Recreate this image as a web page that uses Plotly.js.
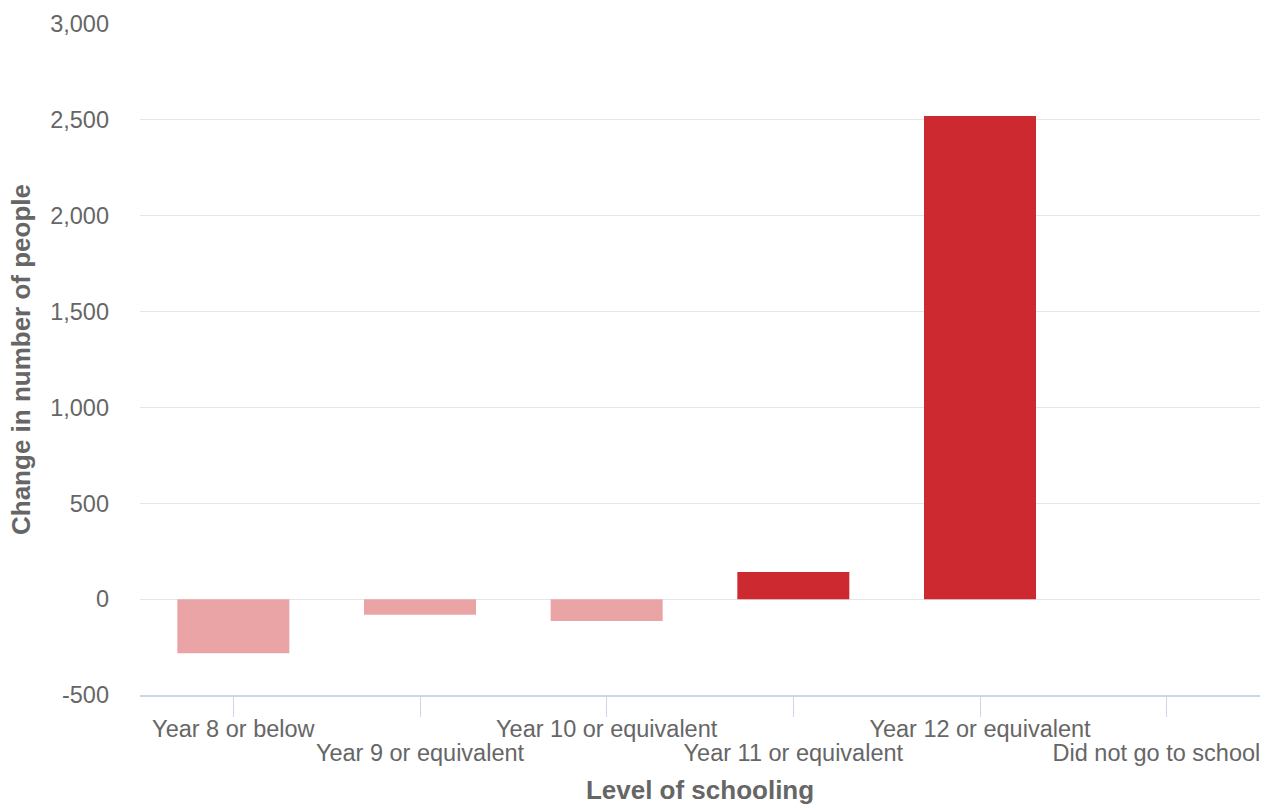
<!DOCTYPE html>
<html>
<head>
<meta charset="utf-8">
<script src="https://cdn.plot.ly/plotly-3.0.1.min.js"></script>
<style>html,body{margin:0;padding:0;background:#fff;}#chart{width:1271px;height:805px;}</style>
</head>
<body>
<div id="chart"></div>
<script>
const categories = ["Year 8 or below", "Year 9 or equivalent", "Year 10 or equivalent", "Year 11 or equivalent", "Year 12 or equivalent", "Did not go to school"];
const changes = [-282, -82, -114, 141, 2520, 0];
const tickLabelsRow1 = ["Year 8 or below", "", "Year 10 or equivalent", "", "Year 12 or equivalent", ""];
const tickLabelsRow2 = ["", "Year 9 or equivalent", "", "Year 11 or equivalent", "", "Did not go to school"];
const yTicks = [-500, 0, 500, 1000, 1500, 2000, 2500, 3000];
const yTickLabels = ["-500", "0", "500", "1,000", "1,500", "2,000", "2,500", "3,000"];

const colors = changes.map(v => v < 0 ? "#EAA4A6" : "#CC2A30");

const trace = {
  type: "bar",
  x: categories,
  y: changes,
  marker: {color: colors, line: {width: 0}},
  hoverinfo: "x+y"
};

// invisible companion trace so the second (label-row) axis is drawn
const labelRowTrace = {
  type: "bar",
  x: categories,
  y: changes,
  xaxis: "x2",
  marker: {color: "rgba(0,0,0,0)", line: {width: 0}},
  hoverinfo: "skip"
};

// second-row label positions (last label nudged left to stay inside the chart)
const row2Positions = categories.map((c, i) => i === categories.length - 1 ? i - 0.055 : i);

const layout = {
  width: 1271, height: 805,
  margin: {l: 140, r: 11, t: 24, b: 110},
  paper_bgcolor: "#fff", plot_bgcolor: "#fff",
  font: {family: "Liberation Sans, Arial, sans-serif", color: "#666666", size: 23.5},
  bargap: 0.4,
  barmode: "overlay",
  showlegend: false,
  xaxis: {
    type: "category",
    tickmode: "array",
    tickvals: categories,
    ticktext: tickLabelsRow1,
    showline: true, linecolor: "#ccd6eb", linewidth: 2,
    ticks: "outside", ticklen: 20, tickcolor: "#ccd6eb", tickwidth: 1,
    ticklabelstandoff: -8,
    showgrid: false, zeroline: false,
    tickangle: 0,
    tickfont: {size: 23.5, color: "#666666"},
    title: {text: ""}
  },
  xaxis2: {
    type: "category",
    matches: "x",
    overlaying: "x",
    anchor: "y",
    side: "bottom",
    tickmode: "array",
    tickvals: row2Positions,
    ticktext: tickLabelsRow2,
    showline: false, showgrid: false, zeroline: false,
    ticks: "outside", ticklen: 20, tickcolor: "rgba(0,0,0,0)",
    ticklabelstandoff: 17,
    tickangle: 0,
    tickfont: {size: 23.5, color: "#666666"},
    title: {text: "<b>Level of schooling</b>", font: {size: 26, color: "#666666"}, standoff: 16}
  },
  yaxis: {
    range: [-500, 3000],
    tickmode: "array",
    tickvals: yTicks,
    ticktext: yTickLabels,
    showgrid: true, gridcolor: "#e6e6e6", gridwidth: 1,
    zeroline: false, showline: false,
    ticks: "", ticklabelstandoff: 30,
    tickfont: {size: 23.5, color: "#666666"},
    title: {text: "<b>Change in number of people</b>", font: {size: 26, color: "#666666"}, standoff: 12}
  }
};

Plotly.newPlot("chart", [trace, labelRowTrace], layout, {displayModeBar: false, staticPlot: true});
</script>
</body>
</html>
